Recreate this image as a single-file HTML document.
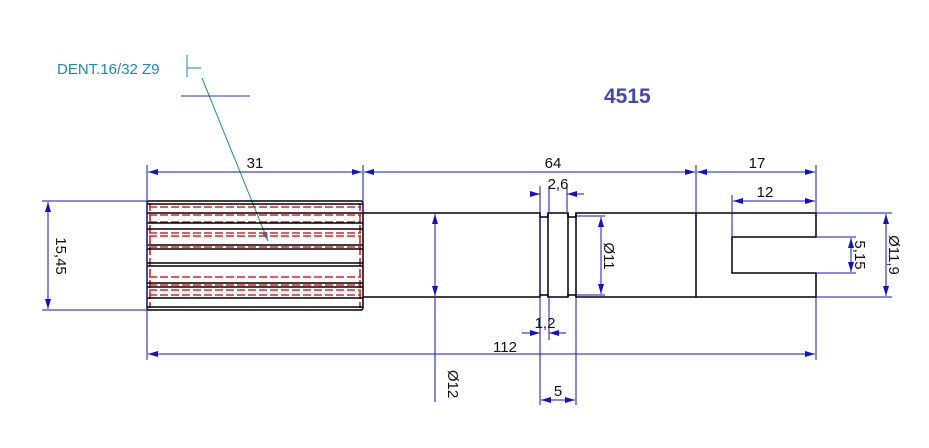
<!DOCTYPE html>
<html><head><style>html,body{margin:0;padding:0;background:#fff}svg{display:block}</style></head>
<body>
<svg width="929" height="448" xmlns="http://www.w3.org/2000/svg" font-family="Liberation Sans, sans-serif">
<defs>
<marker id="a" viewBox="0 0 10 6" refX="10" refY="3" markerWidth="10" markerHeight="6" orient="auto-start-reverse" markerUnits="userSpaceOnUse"><path d="M0,0L10,3L0,6z" fill="#1010d0"/></marker>
<marker id="b" viewBox="0 0 10 6" refX="10" refY="3" markerWidth="9" markerHeight="6" orient="auto" markerUnits="userSpaceOnUse"><path d="M0,0L10,3L0,6z" fill="#1a8ac0"/></marker>
</defs>
<text x="57" y="74" font-size="15" fill="#1a8ac0">DENT.16/32 Z9</text>
<line x1="187" y1="55" x2="187" y2="77" stroke="#1a8ac0"/>
<line x1="187" y1="68" x2="201" y2="68" stroke="#1a8ac0"/>
<line x1="202" y1="78" x2="268" y2="241" stroke="#1a8ac0" marker-end="url(#b)"/>
<line x1="181" y1="96" x2="250" y2="96" stroke="#3030d0"/>
<text x="604" y="103" font-size="21" font-weight="bold" fill="#4048b8">4515</text>

<g stroke="#e02020" stroke-width="1.6" fill="none" stroke-dasharray="8 3">
<line x1="149" y1="207" x2="361" y2="207"/>
<line x1="149" y1="215" x2="361" y2="215"/>
<line x1="149" y1="222" x2="361" y2="222"/>
<line x1="149" y1="233" x2="361" y2="233"/>
<line x1="149" y1="236" x2="361" y2="236"/>
<line x1="149" y1="247" x2="361" y2="247"/>
<line x1="149" y1="277" x2="361" y2="277"/>
<line x1="149" y1="285" x2="361" y2="285"/>
<line x1="149" y1="290" x2="361" y2="290"/>
<line x1="149" y1="295" x2="361" y2="295"/>
<line x1="150" y1="203" x2="150" y2="308"/>
<line x1="360" y1="203" x2="360" y2="308"/>
</g>
<g stroke="#000" stroke-width="1.5" fill="none">
<rect x="147" y="201" width="216" height="109" rx="2"/>
<line x1="147" y1="204" x2="363" y2="204"/>
<line x1="147" y1="213" x2="363" y2="213"/>
<line x1="147" y1="223" x2="363" y2="223"/>
<line x1="147" y1="229" x2="363" y2="229"/>
<line x1="147" y1="245" x2="363" y2="245"/>
<line x1="147" y1="249" x2="363" y2="249"/>
<line x1="147" y1="263" x2="363" y2="263"/>
<line x1="147" y1="266" x2="363" y2="266"/>
<line x1="147" y1="283" x2="363" y2="283"/>
<line x1="147" y1="287" x2="363" y2="287"/>
<line x1="147" y1="298" x2="363" y2="298"/>
<line x1="147" y1="307" x2="363" y2="307"/>
</g>

<g stroke="#000" stroke-width="1.5" fill="none">
<polyline points="363,213 540,213 540,217 548,217 548,213 568,213 568,217 576,217 576,213 816,213 816,237 732,237 732,273 816,273 816,297 576,297 576,295 568,295 568,297 548,297 548,295 540,295 540,297 363,297"/>
<line x1="540" y1="213" x2="540" y2="297"/>
<line x1="548" y1="213" x2="548" y2="297"/>
<line x1="568" y1="213" x2="568" y2="297"/>
<line x1="576" y1="213" x2="576" y2="297"/>
<line x1="696" y1="213" x2="696" y2="297"/>
</g>

<g stroke="#1010d0" stroke-width="1" fill="none">
<line x1="147" y1="165" x2="147" y2="360"/>
<line x1="363" y1="165" x2="363" y2="213"/>
<line x1="696" y1="165" x2="696" y2="213"/>
<line x1="816" y1="165" x2="816" y2="213"/>
<line x1="816" y1="297" x2="816" y2="360"/>
<line x1="148" y1="172" x2="362" y2="172" marker-start="url(#a)" marker-end="url(#a)"/>
<line x1="364" y1="172" x2="695" y2="172" marker-start="url(#a)" marker-end="url(#a)"/>
<line x1="697" y1="172" x2="815" y2="172" marker-start="url(#a)" marker-end="url(#a)"/>
<line x1="732" y1="195" x2="732" y2="237"/>
<line x1="733" y1="201" x2="815" y2="201" marker-start="url(#a)" marker-end="url(#a)"/>
<line x1="540" y1="186" x2="540" y2="405"/>
<line x1="549" y1="186" x2="549" y2="213"/>
<line x1="567" y1="186" x2="567" y2="213"/>
<line x1="531" y1="194" x2="540" y2="194" marker-end="url(#a)"/>
<line x1="584" y1="194" x2="567" y2="194" marker-end="url(#a)"/>
<line x1="549" y1="297" x2="549" y2="340"/>
<line x1="576" y1="297" x2="576" y2="405"/>
<line x1="522" y1="333" x2="540" y2="333" marker-end="url(#a)"/>
<line x1="566" y1="333" x2="549" y2="333" marker-end="url(#a)"/>
<line x1="541" y1="400" x2="575" y2="400" marker-start="url(#a)" marker-end="url(#a)"/>
<line x1="148" y1="354" x2="815" y2="354" marker-start="url(#a)" marker-end="url(#a)"/>
<line x1="576" y1="216" x2="605" y2="216"/>
<line x1="576" y1="295" x2="605" y2="295"/>
<line x1="601" y1="217" x2="601" y2="294" marker-start="url(#a)" marker-end="url(#a)"/>
<line x1="435" y1="214" x2="435" y2="296" marker-start="url(#a)" marker-end="url(#a)"/>
<line x1="435" y1="297" x2="435" y2="402"/>
<line x1="42" y1="201" x2="147" y2="201"/>
<line x1="42" y1="310" x2="147" y2="310"/>
<line x1="48" y1="202" x2="48" y2="309" marker-start="url(#a)" marker-end="url(#a)"/>
<line x1="816" y1="213" x2="892" y2="213"/>
<line x1="816" y1="297" x2="892" y2="297"/>
<line x1="886" y1="214" x2="886" y2="296" marker-start="url(#a)" marker-end="url(#a)"/>
<line x1="816" y1="237" x2="856" y2="237"/>
<line x1="816" y1="273" x2="856" y2="273"/>
<line x1="851" y1="238" x2="851" y2="272" marker-start="url(#a)" marker-end="url(#a)"/>
</g>
<g font-size="15" fill="#111">
<text x="255" y="168" text-anchor="middle">31</text>
<text x="553" y="168" text-anchor="middle">64</text>
<text x="757" y="168" text-anchor="middle">17</text>
<text x="765" y="197" text-anchor="middle">12</text>
<text x="558" y="189" text-anchor="middle">2,6</text>
<text x="545" y="328" text-anchor="middle">1,2</text>
<text x="505" y="352" text-anchor="middle">112</text>
<text x="558" y="396" text-anchor="middle">5</text>
<text transform="translate(604,256) rotate(90)" text-anchor="middle">Ø11</text>
<text transform="translate(448,384) rotate(90)" text-anchor="middle">Ø12</text>
<text transform="translate(56,256) rotate(90)" text-anchor="middle">15,45</text>
<text transform="translate(889,255) rotate(90)" text-anchor="middle">Ø11,9</text>
<text transform="translate(855,255) rotate(90)" text-anchor="middle">5,15</text>
</g>
</svg>
</body></html>
